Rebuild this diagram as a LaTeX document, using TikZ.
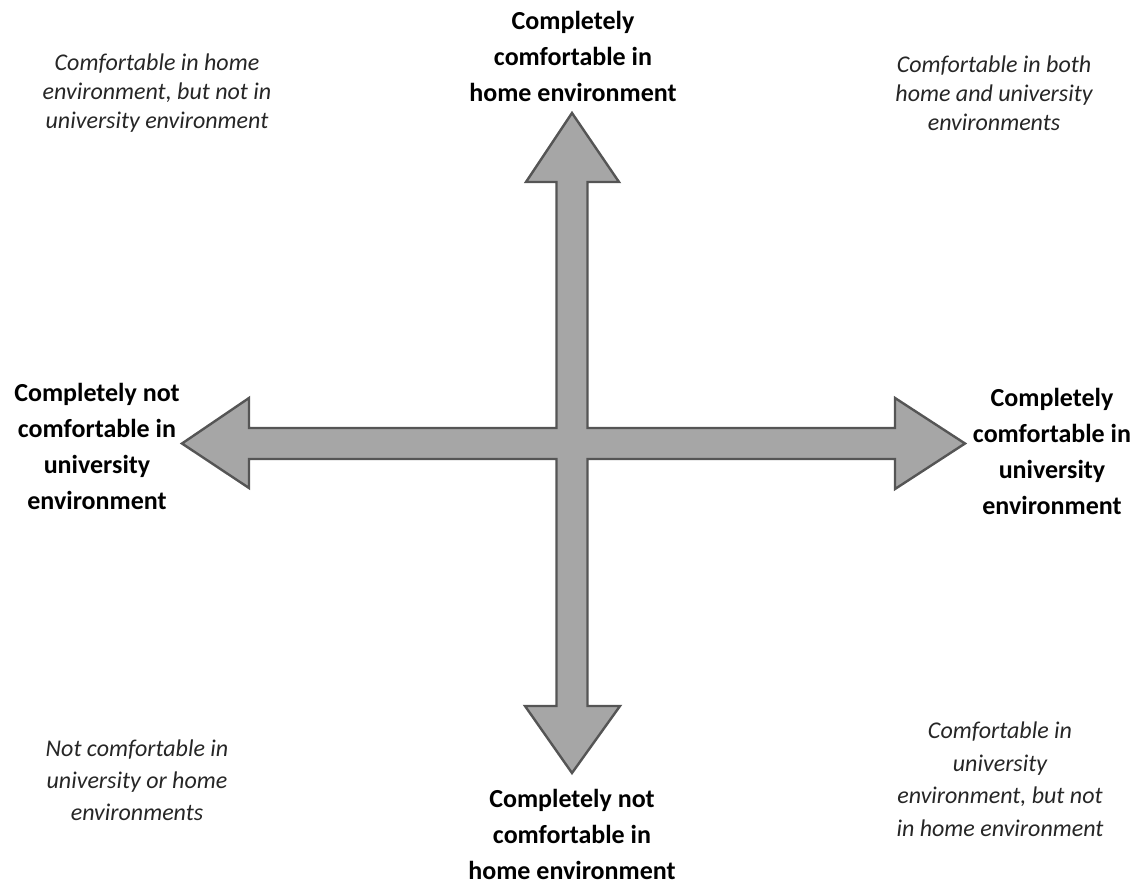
\documentclass[tikz,border=0pt]{standalone}
\usepackage{fontspec}
\setmainfont{Carlito}
\definecolor{arrowfill}{HTML}{A6A6A6}
\definecolor{arrowline}{HTML}{555555}
\tikzset{
  axislabel/.style={align=center, inner sep=0pt, text=black,
    font=\fontsize{26}{36}\selectfont\bfseries},
  quadlabel/.style={align=center, inner sep=0pt, text=black!85,
    font=\fontsize{24}{#1}\selectfont\itshape},
  quadlabel/.default=29,
  crossarrow/.style={fill=arrowfill, draw=arrowline, line width=2.4pt, line join=miter},
}
\begin{document}
\begin{tikzpicture}[x=1pt, y=-1pt]
  \useasboundingbox (0,0) rectangle (1144,881);

  % Four-way arrow drawn as a single outline
  \draw[crossarrow]
    (572,113) -- (619,182) -- (587.5,182) -- (587.5,428)
    -- (895,428) -- (895,398) -- (965,443.5) -- (895,489) -- (895,459)
    -- (587.5,459) -- (587.5,706) -- (620,706) -- (572,773) -- (525,706)
    -- (556.5,706) -- (556.5,459) -- (249,459) -- (249,488) -- (182,443.5)
    -- (249,398) -- (249,428) -- (556.5,428) -- (556.5,182) -- (526,182)
    -- cycle;

  % Axis ends
  \node[axislabel] (top) at (573,56.5) {Completely\\comfortable in\\home environment};
  \node[axislabel] (bottom) at (572,834) {Completely not\\comfortable in\\home environment};
  \node[axislabel] (left) at (97,446.5) {Completely not\\comfortable in\\university\\environment};
  \node[axislabel] (right) at (1052,451) {Completely\\comfortable in\\university\\environment};

  % Quadrants
  \node[quadlabel] (tl) at (157,93) {Comfortable in home\\environment, but not in\\university environment};
  \node[quadlabel] (tr) at (994,93) {Comfortable in both\\home and university\\environments};
  \node[quadlabel=32] (bl) at (137,780) {Not comfortable in\\university or home\\environments};
  \node[quadlabel=32.5] (br) at (1000,779) {Comfortable in\\university\\environment, but not\\in home environment};
\end{tikzpicture}
\end{document}
